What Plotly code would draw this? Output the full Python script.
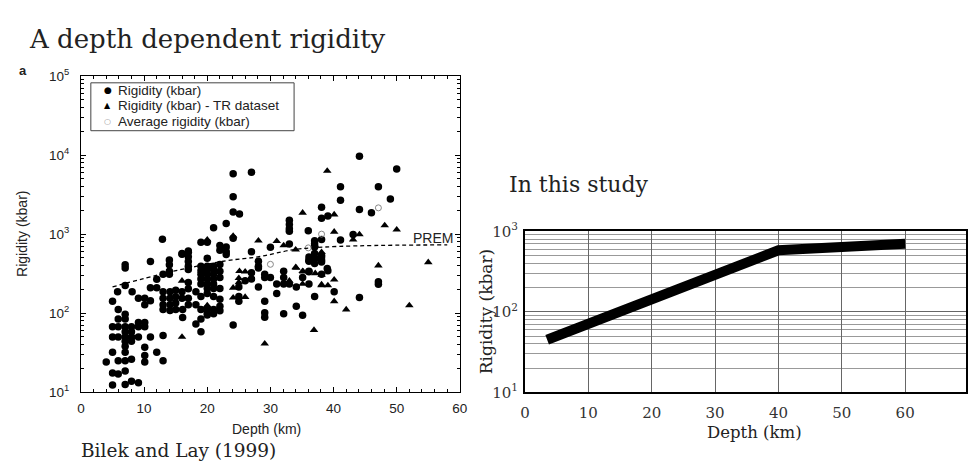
import plotly.graph_objects as go

# ---------------- data (left panel: Bilek and Lay 1999) ----------------
circle_depth = [
    4,
    5, 5, 5, 5, 5, 5,
    5.9, 5.9, 5.9, 5.9, 5.9, 5.9, 5.8,
    7, 7, 7, 7, 7, 7, 7, 7, 7, 7, 7, 7, 7, 7,
    8, 8, 8, 8, 8, 8, 8.1,
    9.1, 9.1, 9.1, 9.1, 9.1,
    10.1, 10.1, 10.1, 10.1, 10.1, 10.1, 10.1,
    11, 11, 11, 11,
    12, 12, 12,
    12.9,
    13, 13, 13, 13, 13, 13, 13,
    14.1, 14.1, 14.1, 14.1, 14, 14, 14, 14,
    15, 15, 15, 15,
    16.1, 16.1, 16, 16, 16, 16,
    17, 17, 17, 17, 17, 17, 17, 17, 17, 17,
    18.2, 18.2, 18.2,
    19, 19, 19, 19, 19, 19, 19, 19, 19, 19,
    20, 20, 20, 20, 20, 20, 20, 20, 20, 20, 20, 20,
    21, 21, 21, 21, 21, 21, 21, 21, 21, 21,
    22, 22, 22, 22, 22, 22, 22, 22, 22,
    23, 23, 23, 23,
    24.1, 24.1, 24.1, 24.1, 24.1,
    25, 25, 25, 25.1,
    26,
    27, 27, 27, 27,
    28.1, 28.1, 28.1, 28.1,
    29.1, 29.1, 29.1, 29.1, 29.1,
    30, 30,
    31, 31,
    32.1, 32.1, 32.1, 32.1,
    33, 33, 33, 33, 33, 33,
    34.1, 34.1,
    35.1, 35.1,
    36.1, 36.1, 36.1, 36.1, 36.1, 36.1, 36,
    37, 37, 37, 37, 37, 37, 37, 37, 37,
    38.1, 38.1, 38.1, 38.1, 38.1, 38.1, 38.1, 38.1,
    39, 39.1, 39.1,
    40.1,
    41.1, 41.1, 41.1,
    43.1,
    44.1, 44.1, 44.1,
    46,
    47.1, 47.1, 47.1,
    49,
    50,
]
circle_rigidity = [
    24,
    12.3, 17.5, 32, 50, 67, 141,
    17, 25, 50, 67, 84, 111, 186,
    12.5, 18.5, 25, 32, 38, 44, 50, 58, 67, 84, 97, 224, 373, 410,
    13.7, 26, 44, 50, 58, 67, 186,
    13.1, 50, 67, 76, 154,
    24, 29, 37, 67, 76, 128, 154,
    50, 143, 210, 450,
    32, 210, 269,
    863,
    25, 52, 111, 128, 154, 186, 310,
    108, 128, 154, 186, 310, 340, 410, 471,
    111, 134, 161, 195,
    88, 111, 154, 186, 556, 567,
    128, 154, 204, 245, 356, 391, 450, 517, 590, 610,
    73, 128, 186,
    58, 84, 111, 162, 234, 270, 310, 345, 393, 790,
    95, 101, 115, 177, 205, 234, 270, 310, 355, 393, 496, 790,
    98, 111, 162, 205, 234, 270, 310, 355, 393, 1200,
    107, 122, 150, 205, 282, 340, 412, 625, 719,
    554, 597, 686, 1360,
    71, 890, 1900, 2970, 5800,
    141, 162, 214, 1800,
    257,
    270, 325, 597, 6080,
    214, 373, 393, 452,
    89, 101, 141, 282, 310,
    282, 680,
    177, 234,
    98, 234, 282, 340,
    234, 750, 1090, 1170, 1320, 1500,
    122, 214,
    94, 282,
    234, 340, 335, 452, 466, 512, 1100,
    162, 424, 489, 496, 569, 686, 700, 753, 826,
    310, 444, 470, 512, 540, 855, 1590, 2190,
    368, 345, 1700,
    186,
    840, 2690, 3970,
    990,
    158, 2050, 9700,
    1870,
    232, 250, 3970,
    2790,
    6680,
]

tri_depth = [16, 16, 20, 20, 24.1, 24.1, 24.1, 25, 25, 25.1, 26, 26, 28.1, 29.1,
             31, 32.1, 33, 34, 34, 34.1, 35.1, 35.1, 35.2, 35.1, 36.9, 37, 37.1,
             38.1, 38.1, 38.1, 38.1, 39.1, 39, 40.1, 40.1, 40.1, 40.1, 42, 43.1,
             44.1, 47.1, 48.1, 50, 52, 55]
tri_rigidity = [50, 257, 125, 850, 157, 209, 950, 246, 277, 340, 160, 335, 826, 41,
                815, 719, 257, 380, 636, 373, 340, 234, 335, 1860, 61, 720, 319,
                224, 230, 305, 590, 224, 6300, 141, 265, 1070, 1770, 111, 850,
                990, 400, 1290, 1140, 125, 440]

avg_depth = [30, 36, 38.1, 47.1]
avg_rigidity = [415, 670, 1000, 2150]

prem_depth = [5, 14, 23, 28, 35, 58]
prem_rigidity = [215, 330, 460, 515, 655, 730]

legend_labels = ["Rigidity (kbar)", "Rigidity (kbar) - TR dataset", "Average rigidity (kbar)"]

# ---------------- data (right panel: this study) ----------------
study_depth = [3.5, 40, 60]
study_rigidity = [45, 580, 700]

left_ticks = [10, 100, 1000, 10000, 100000]
left_ticktext = ["10<sup>1</sup>", "10<sup>2</sup>", "10<sup>3</sup>", "10<sup>4</sup>", "10<sup>5</sup>"]
right_ticks = [10, 100, 1000]
right_ticktext = ["10<sup>1</sup>", "10<sup>2</sup>", "10<sup>3</sup>"]

SANS = "Liberation Sans, Arial, sans-serif"
SERIF = "DejaVu Serif, serif"

fig = go.Figure()

fig.add_trace(go.Scatter(
    x=circle_depth, y=circle_rigidity, mode="markers", name=legend_labels[0],
    marker=dict(symbol="circle", size=7.5, color="black"),
    xaxis="x", yaxis="y"))
fig.add_trace(go.Scatter(
    x=tri_depth, y=tri_rigidity, mode="markers", name=legend_labels[1],
    marker=dict(symbol="triangle-up", size=7.5, color="black"),
    xaxis="x", yaxis="y"))
fig.add_trace(go.Scatter(
    x=avg_depth, y=avg_rigidity, mode="markers", name=legend_labels[2],
    marker=dict(symbol="circle-open", size=6, color="#888888", line=dict(width=1)),
    xaxis="x", yaxis="y"))
fig.add_trace(go.Scatter(
    x=prem_depth, y=prem_rigidity, mode="lines", showlegend=False,
    line=dict(color="black", width=1.3, dash="4px,3px", shape="spline"),
    xaxis="x", yaxis="y"))

fig.add_trace(go.Scatter(
    x=study_depth, y=study_rigidity, mode="lines", showlegend=False,
    line=dict(color="black", width=10),
    xaxis="x2", yaxis="y2"))

left_axis_common = dict(
    showline=True, linecolor="black", linewidth=1, mirror="allticks",
    ticks="inside", ticklen=5, tickcolor="black", showgrid=False, zeroline=False,
    tickfont=dict(family=SANS, size=13.5, color="#222"),
)

fig.update_layout(
    width=974, height=472, margin=dict(l=0, r=0, t=0, b=0),
    paper_bgcolor="white", plot_bgcolor="white", showlegend=False,
    xaxis=dict(domain=[77 / 974, 461 / 974], range=[0, 60], dtick=10, anchor="y",
               minor=dict(ticks="inside", ticklen=3, dtick=2, tickcolor="black"),
               ticklabelstandoff=4, **left_axis_common),
    yaxis=dict(domain=[(472 - 398) / 472, (472 - 68) / 472], type="log", range=[1, 5],
               tickvals=left_ticks, ticktext=left_ticktext, anchor="x",
               minor=dict(ticks="inside", ticklen=3, dtick="D1", tickcolor="black"),
               ticklabelstandoff=8, **left_axis_common),
    xaxis2=dict(domain=[527 / 974, 1.0], range=[0, 69.6], dtick=10, anchor="y2",
                showline=True, linecolor="black", linewidth=2, mirror=True,
                ticks="", showgrid=True, gridcolor="#666", gridwidth=1, zeroline=False,
                tickfont=dict(family=SERIF, size=15, color="#333"), ticklabelstandoff=6),
    yaxis2=dict(domain=[(472 - 398.3) / 472, (472 - 230) / 472], type="log", range=[1, 3],
                tickvals=right_ticks, ticktext=right_ticktext, anchor="x2",
                showline=True, linecolor="black", linewidth=2, mirror=True,
                ticks="", showgrid=True, gridcolor="#666", gridwidth=1, zeroline=False,
                minor=dict(showgrid=True, dtick="D1", gridcolor="#999", gridwidth=1),
                tickfont=dict(family=SERIF, size=15, color="#333"), ticklabelstandoff=2),
)

# manual legend box
fig.add_shape(type="rect", xref="paper", yref="paper",
              x0=87 / 974, x1=293 / 974, y0=(472 - 125) / 472, y1=(472 - 75) / 472,
              line=dict(color="#444", width=1), fillcolor="white", layer="above")

annotations = [
    dict(text="A depth dependent rigidity", x=22, y=29, font=dict(family=SERIF, size=26, color="#222"),
         xanchor="left"),
    dict(text="<b>a</b>", x=12, y=62, font=dict(family=SANS, size=13, color="#222"), xanchor="left"),
    dict(text="Rigidity (kbar)", x=17, y=233, textangle=-90, font=dict(family=SANS, size=14, color="#222")),
    dict(text="Depth (km)", x=265, y=437, font=dict(family=SANS, size=14, color="#222")),
    dict(text="Bilek and Lay (1999)", x=75, y=459, font=dict(family=SERIF, size=18.5, color="#222"),
         xanchor="left"),
    dict(text="In this study", x=509, y=181, font=dict(family=SERIF, size=22, color="#222"),
         xanchor="left"),
    dict(text="Rigidity (kbar)", x=487, y=314, textangle=-90, font=dict(family=SERIF, size=17, color="#222")),
    dict(text="Depth (km)", x=760, y=440, font=dict(family=SERIF, size=16.5, color="#222")),
    # legend glyphs and labels
    dict(text="●", x=104, y=83, font=dict(family="DejaVu Sans", size=9, color="black")),
    dict(text="▲", x=104, y=99, font=dict(family="DejaVu Sans", size=8, color="black")),
    dict(text="○", x=104, y=115, font=dict(family="DejaVu Sans", size=8, color="#999")),
    dict(text=legend_labels[0], x=113, y=83, font=dict(family=SANS, size=13.5, color="#222"), xanchor="left"),
    dict(text=legend_labels[1], x=113, y=99, font=dict(family=SANS, size=13.5, color="#222"), xanchor="left"),
    dict(text=legend_labels[2], x=113, y=115, font=dict(family=SANS, size=13.5, color="#222"), xanchor="left"),
]
for a in annotations:
    a.update(xref="paper", yref="paper", showarrow=False)
    a["x"] = a["x"] / 974
    a["y"] = (472 - a["y"]) / 472
    a.setdefault("xanchor", "center")
    a["yanchor"] = "middle"
fig.update_layout(annotations=annotations)

fig.add_annotation(text="PREM", x=59.3, y=2.95, xref="x", yref="y", showarrow=False,
                   xanchor="right", font=dict(family=SANS, size=14, color="#222"))

fig.write_html("out.html")
